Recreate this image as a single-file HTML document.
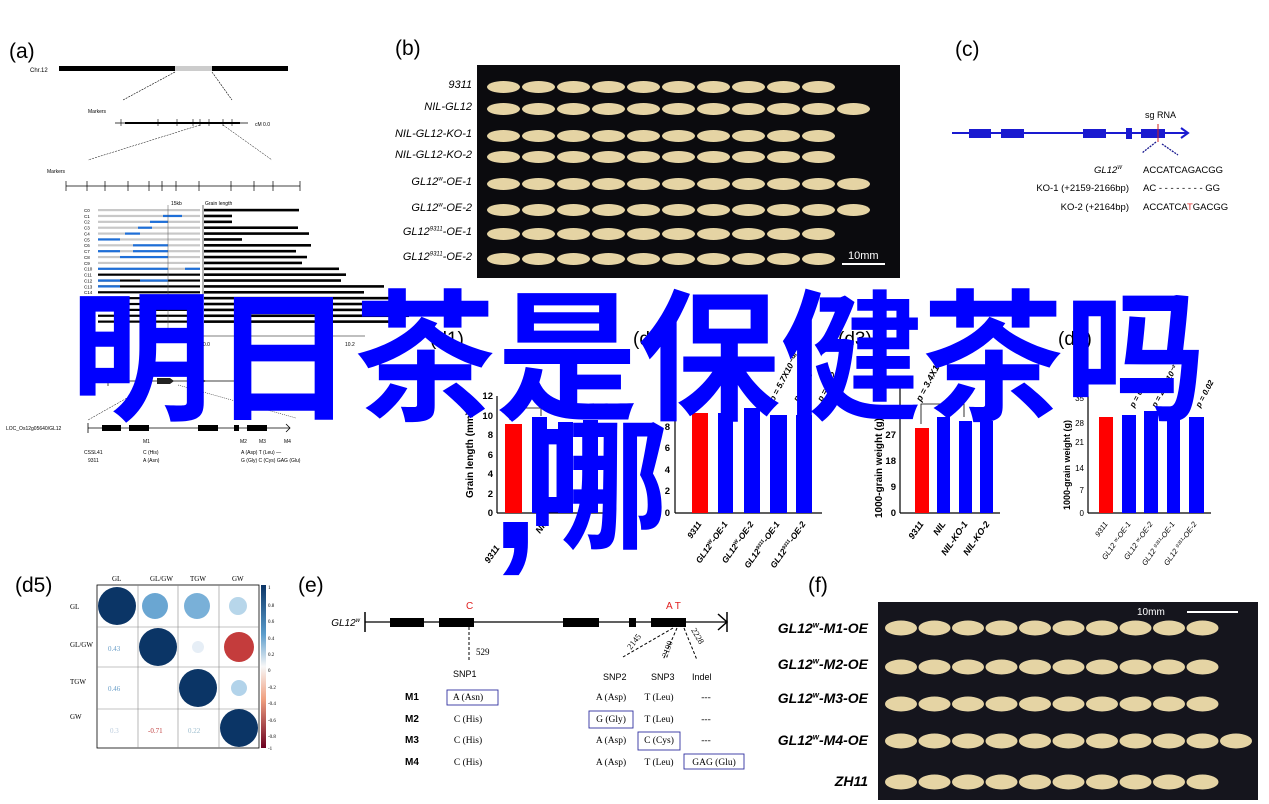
<!DOCTYPE html>
<html><head><meta charset="utf-8">
<style>
html,body{margin:0;padding:0;background:#fff;}
#w{position:relative;width:1269px;height:804px;overflow:hidden;font-family:"Liberation Sans",sans-serif;}
.a{position:absolute;white-space:nowrap;}
.it{font-style:italic;}
.big{position:absolute;font-family:"Noto Sans CJK SC","Liberation Sans",sans-serif;font-weight:bold;color:#0000ff;font-size:142px;line-height:142px;white-space:nowrap;}
</style></head><body><div id="w">
<svg width="1269" height="804" style="position:absolute;left:0;top:0" xmlns="http://www.w3.org/2000/svg" font-family="Liberation Sans, sans-serif">
<!-- (a) -->
<text x="9" y="58" font-size="21">(a)</text>
<text x="30" y="72" font-size="6">Chr.12</text>
<rect x="59" y="66" width="229" height="5" fill="#000"/>
<rect x="175" y="66" width="37" height="5" fill="#ccc"/>
<line x1="175" y1="72" x2="123" y2="100" stroke="#000" stroke-width="0.6" stroke-dasharray="2,1"/>
<line x1="212" y1="72" x2="232" y2="100" stroke="#000" stroke-width="0.6" stroke-dasharray="2,1"/>
<text x="88" y="113" font-size="5">Markers</text>
<line x1="115" y1="123" x2="248" y2="123" stroke="#000" stroke-width="0.8"/>
<rect x="125" y="122" width="115" height="2" fill="#000"/>
<g stroke="#000" stroke-width="0.6">
<line x1="121" y1="119" x2="121" y2="126"/><line x1="158" y1="119" x2="158" y2="126"/><line x1="177" y1="119" x2="177" y2="126"/><line x1="193" y1="119" x2="193" y2="126"/><line x1="200" y1="119" x2="200" y2="126"/><line x1="209" y1="119" x2="209" y2="126"/><line x1="223" y1="119" x2="223" y2="126"/><line x1="232" y1="119" x2="232" y2="126"/>
</g>
<text x="255" y="126" font-size="5">cM 0.0</text>
<line x1="200" y1="125" x2="88" y2="160" stroke="#000" stroke-width="0.5" stroke-dasharray="2,1"/>
<line x1="223" y1="125" x2="272" y2="160" stroke="#000" stroke-width="0.5" stroke-dasharray="2,1"/>
<text x="47" y="173" font-size="5">Markers</text>
<line x1="66" y1="186" x2="300" y2="186" stroke="#000" stroke-width="0.8"/>
<g stroke="#000" stroke-width="0.7">
<line x1="66" y1="181" x2="66" y2="191"/><line x1="87" y1="181" x2="87" y2="191"/><line x1="105" y1="181" x2="105" y2="191"/><line x1="128" y1="181" x2="128" y2="191"/><line x1="149" y1="181" x2="149" y2="191"/><line x1="162" y1="181" x2="162" y2="191"/><line x1="176" y1="181" x2="176" y2="191"/><line x1="199" y1="181" x2="199" y2="191"/><line x1="231" y1="181" x2="231" y2="191"/><line x1="254" y1="181" x2="254" y2="191"/><line x1="273" y1="181" x2="273" y2="191"/><line x1="300" y1="181" x2="300" y2="191"/>
</g>
<text x="171" y="205" font-size="5">15kb</text>
<text x="205" y="205" font-size="5">Grain length</text>
<g id="arows"></g>
<line x1="168" y1="205" x2="168" y2="330" stroke="#555" stroke-width="0.5"/>
<line x1="203" y1="205" x2="203" y2="340" stroke="#000" stroke-width="0.6"/>
<line x1="203" y1="336" x2="365" y2="336" stroke="#000" stroke-width="0.6"/>
<text x="203" y="346" font-size="5">0.0</text><text x="345" y="346" font-size="5">10.2</text>
<line x1="108" y1="381" x2="240" y2="381" stroke="#000" stroke-width="0.7"/>
<line x1="108" y1="376" x2="108" y2="386" stroke="#000" stroke-width="0.7"/>
<path d="M157 378 L170 378 L174 381 L170 384 L157 384Z M200 378 L206 381 L200 384Z" fill="#222"/>
<line x1="150" y1="385" x2="88" y2="420" stroke="#000" stroke-width="0.5" stroke-dasharray="2,1"/>
<line x1="178" y1="385" x2="296" y2="418" stroke="#000" stroke-width="0.5" stroke-dasharray="1,1"/>
<text x="6" y="430" font-size="5">LOC_Os12g05640/GL12</text>
<line x1="88" y1="428" x2="290" y2="428" stroke="#000" stroke-width="0.8"/>
<line x1="88" y1="423" x2="88" y2="433" stroke="#000" stroke-width="0.8"/>
<path d="M286 424 L290 428 L286 432" fill="none" stroke="#000" stroke-width="0.8"/>
<g fill="#000"><rect x="102" y="425" width="19" height="6"/><rect x="129" y="425" width="20" height="6"/><rect x="198" y="425" width="20" height="6"/><rect x="234" y="425" width="5" height="6"/><rect x="247" y="425" width="20" height="6"/></g>
<g font-size="5"><text x="143" y="443">M1</text><text x="240" y="443">M2</text><text x="259" y="443">M3</text><text x="284" y="443">M4</text>
<text x="84" y="454">CSSL41</text><text x="88" y="462">9311</text><text x="143" y="454">C (His)</text><text x="143" y="462">A (Asn)</text>
<text x="241" y="454">A (Asp) T (Leu)  —</text><text x="241" y="462">G (Gly) C (Cys) GAG (Glu)</text></g>

<!-- (b) -->
<text x="395" y="55" font-size="21">(b)</text>
<rect x="477" y="65" width="423" height="213" fill="#0b0b0e"/>
<g id="bgr"></g>
<text x="848" y="259" font-size="11" fill="#fff">10mm</text>
<line x1="842" y1="264" x2="885" y2="264" stroke="#fff" stroke-width="2"/>

<!-- (c) -->
<text x="955" y="56" font-size="21">(c)</text>
<line x1="952" y1="133" x2="1187" y2="133" stroke="#1a1ad0" stroke-width="2"/>
<path d="M1181 128 L1188 133 L1181 138" fill="none" stroke="#1a1ad0" stroke-width="2"/>
<g fill="#1a1ad0"><rect x="969" y="129" width="22" height="9"/><rect x="1001" y="129" width="23" height="9"/><rect x="1083" y="129" width="23" height="9"/><rect x="1126" y="128" width="6" height="11"/><rect x="1141" y="129" width="24" height="9"/></g>
<line x1="1158" y1="124" x2="1158" y2="142" stroke="#d02020" stroke-width="1"/>
<text x="1145" y="118" font-size="9">sg RNA</text>
<line x1="1156" y1="142" x2="1142" y2="153" stroke="#1a1a90" stroke-width="1.3" stroke-dasharray="2,1"/>
<line x1="1162" y1="144" x2="1178" y2="155" stroke="#1a1a90" stroke-width="1.3" stroke-dasharray="2,1"/>
<g font-size="9.5"><text x="1122" y="173" text-anchor="end" font-style="italic">GL12<tspan font-size="5" dy="-4">W</tspan></text>
<text x="1143" y="173">ACCATCAGACGG</text>
<text x="1129" y="191" text-anchor="end">KO-1 (+2159-2166bp)</text><text x="1143" y="191">AC  - - - - - - - -  GG</text>
<text x="1129" y="210" text-anchor="end">KO-2 (+2164bp)</text><text x="1143" y="210">ACCATCA<tspan fill="#e03030">T</tspan>GACGG</text></g>

<!-- d1 -->
<text x="430" y="345" font-size="19">(d1)</text>
<line x1="497" y1="396" x2="497" y2="513" stroke="#000" stroke-width="1.2"/>
<line x1="497" y1="513" x2="605" y2="513" stroke="#000" stroke-width="1.2"/>
<g font-size="9.5" font-weight="bold" text-anchor="end">
<text x="493" y="516">0</text><text x="493" y="497">2</text><text x="493" y="477">4</text><text x="493" y="458">6</text><text x="493" y="438">8</text><text x="493" y="419">10</text><text x="493" y="399">12</text></g>
<text transform="translate(473,498) rotate(-90)" font-size="10" font-weight="bold">Grain length (mm)</text>
<rect x="505" y="424" width="17" height="89" fill="#f00"/>
<g fill="#0000ff"><rect x="532" y="417" width="15" height="96"/><rect x="558" y="422" width="15" height="91"/><rect x="583" y="420" width="15" height="93"/></g>
<path d="M510 420 V408 H541 V416" fill="none" stroke="#000" stroke-width="0.8"/>
<g font-size="9" font-weight="bold" font-style="italic"><text transform="translate(500,548) rotate(-55)" text-anchor="end">9311</text><text transform="translate(540,534) rotate(-55)">NIL</text></g>
<!-- d2 -->
<text x="633" y="345" font-size="19">(d2)</text>
<line x1="675" y1="384" x2="675" y2="513" stroke="#000" stroke-width="1.2"/>
<line x1="675" y1="513" x2="822" y2="513" stroke="#000" stroke-width="1.2"/>
<g font-size="9.5" font-weight="bold" text-anchor="end"><text x="670" y="516">0</text><text x="670" y="494">2</text><text x="670" y="473">4</text><text x="670" y="451">6</text><text x="670" y="430">8</text></g>
<rect x="692" y="413" width="16" height="100" fill="#f00"/>
<g fill="#0000ff"><rect x="718" y="413" width="15" height="100"/><rect x="744" y="408" width="16" height="105"/><rect x="770" y="415" width="17" height="98"/><rect x="796" y="415" width="16" height="98"/></g>
<g font-size="8.5" font-weight="bold" font-style="italic" text-anchor="end">
<text transform="translate(702,524) rotate(-55)">9311</text>
<text transform="translate(728,524) rotate(-55)">GL12<tspan font-size="5" dy="-3">W</tspan><tspan dy="3">-OE-1</tspan></text>
<text transform="translate(754,524) rotate(-55)">GL12<tspan font-size="5" dy="-3">W</tspan><tspan dy="3">-OE-2</tspan></text>
<text transform="translate(780,524) rotate(-55)">GL12<tspan font-size="5" dy="-3">9311</tspan><tspan dy="3">-OE-1</tspan></text>
<text transform="translate(806,524) rotate(-55)">GL12<tspan font-size="5" dy="-3">9311</tspan><tspan dy="3">-OE-2</tspan></text></g>
<g font-size="8.5" font-weight="bold" font-style="italic"><text transform="translate(774,402) rotate(-62)">p = 5.7X10⁻⁰⁸</text><text transform="translate(798,402) rotate(-62)">p = 0.06</text><text transform="translate(822,402) rotate(-62)">p = 0.02</text></g>
<!-- d3 -->
<text x="838" y="345" font-size="19">(d3)</text>
<line x1="900" y1="384" x2="900" y2="513" stroke="#000" stroke-width="1.2"/>
<line x1="900" y1="513" x2="1000" y2="513" stroke="#000" stroke-width="1.2"/>
<g font-size="9.5" font-weight="bold" text-anchor="end"><text x="896" y="516">0</text><text x="896" y="490">9</text><text x="896" y="464">18</text><text x="896" y="438">27</text></g>
<text transform="translate(882,518) rotate(-90)" font-size="10" font-weight="bold">1000-grain weight (g)</text>
<rect x="915" y="428" width="14" height="85" fill="#f00"/>
<g fill="#0000ff"><rect x="937" y="417" width="13" height="96"/><rect x="959" y="421" width="13" height="92"/><rect x="980" y="421" width="13" height="92"/></g>
<path d="M921 424 V404 H964 V417" fill="none" stroke="#000" stroke-width="0.8"/>
<g font-size="9" font-weight="bold" font-style="italic"><text transform="translate(921,402) rotate(-62)">p = 3.4X10⁻⁴</text>
<text transform="translate(924,524) rotate(-55)" text-anchor="end">9311</text><text transform="translate(946,524) rotate(-55)" text-anchor="end">NIL</text><text transform="translate(968,524) rotate(-55)" text-anchor="end">NIL-KO-1</text><text transform="translate(990,524) rotate(-55)" text-anchor="end">NIL-KO-2</text></g>
<!-- d4 -->
<text x="1058" y="345" font-size="19">(d4)</text>
<line x1="1088" y1="396" x2="1088" y2="513" stroke="#000" stroke-width="1.2"/>
<line x1="1088" y1="513" x2="1211" y2="513" stroke="#000" stroke-width="1.2"/>
<g font-size="8" text-anchor="end"><text x="1084" y="516">0</text><text x="1084" y="493">7</text><text x="1084" y="471">14</text><text x="1084" y="445">21</text><text x="1084" y="426">28</text><text x="1084" y="401">35</text></g>
<text transform="translate(1070,510) rotate(-90)" font-size="9" font-weight="bold">1000-grain weight (g)</text>
<rect x="1099" y="417" width="14" height="96" fill="#f00"/>
<g fill="#0000ff"><rect x="1122" y="415" width="14" height="98"/><rect x="1144" y="411" width="14" height="102"/><rect x="1167" y="418" width="13" height="95"/><rect x="1189" y="417" width="15" height="96"/></g>
<g font-size="8" font-weight="bold" font-style="italic"><text transform="translate(1134,408) rotate(-62)">p = 0.3</text><text transform="translate(1156,408) rotate(-62)">p = 2.1X10⁻²</text><text transform="translate(1178,408) rotate(-62)">p = 0.05</text><text transform="translate(1200,408) rotate(-62)">p = 0.02</text></g>
<g font-size="7.5" font-style="italic" text-anchor="end">
<text transform="translate(1108,524) rotate(-55)">9311</text>
<text transform="translate(1131,524) rotate(-55)">GL12 ʷ-OE-1</text><text transform="translate(1153,524) rotate(-55)">GL12 ʷ-OE-2</text><text transform="translate(1175,524) rotate(-55)">GL12 ⁹³¹¹-OE-1</text><text transform="translate(1197,524) rotate(-55)">GL12 ⁹³¹¹-OE-2</text></g>

<!-- d5 -->
<text x="15" y="592" font-size="21">(d5)</text>
<rect x="97" y="585" width="162" height="163" fill="none" stroke="#000" stroke-width="0.8"/>
<g stroke="#888" stroke-width="0.6"><line x1="138" y1="585" x2="138" y2="748"/><line x1="178" y1="585" x2="178" y2="748"/><line x1="219" y1="585" x2="219" y2="748"/><line x1="97" y1="627" x2="259" y2="627"/><line x1="97" y1="667" x2="259" y2="667"/><line x1="97" y1="709" x2="259" y2="709"/></g>
<g font-family="Liberation Serif, serif" font-size="7"><text x="112" y="581">GL</text><text x="150" y="581">GL/GW</text><text x="190" y="581">TGW</text><text x="232" y="581">GW</text>
<text x="70" y="609">GL</text><text x="70" y="647">GL/GW</text><text x="70" y="684">TGW</text><text x="70" y="719">GW</text>
<text x="108" y="651" fill="#6a9ec8">0.43</text><text x="108" y="691" fill="#6a9ec8">0.46</text><text x="110" y="733" fill="#bcd">0.3</text><text x="148" y="733" fill="#c04040">-0.71</text><text x="188" y="733" fill="#9bc">0.22</text></g>
<circle cx="117" cy="606" r="19" fill="#0b3566"/><circle cx="155" cy="606" r="13" fill="#6aa6d2"/><circle cx="197" cy="606" r="13" fill="#79b0d8"/><circle cx="238" cy="606" r="9" fill="#b7d6ea"/>
<circle cx="158" cy="647" r="19" fill="#0b3566"/><circle cx="198" cy="647" r="6" fill="#e6eef6"/><circle cx="239" cy="647" r="15" fill="#c43c3c"/>
<circle cx="198" cy="688" r="19" fill="#0b3566"/><circle cx="239" cy="688" r="8" fill="#b2d3ea"/>
<circle cx="239" cy="728" r="19" fill="#0b3566"/>
<defs><linearGradient id="cb" x1="0" y1="0" x2="0" y2="1"><stop offset="0" stop-color="#0b3566"/><stop offset="0.3" stop-color="#5a9ccb"/><stop offset="0.5" stop-color="#f7f7f7"/><stop offset="0.7" stop-color="#f0a080"/><stop offset="1" stop-color="#6b0020"/></linearGradient></defs>
<rect x="261" y="585" width="5" height="163" fill="url(#cb)"/>
<g font-size="5" font-family="Liberation Serif, serif"><text x="268" y="589">1</text><text x="268" y="607">0.8</text><text x="268" y="623">0.6</text><text x="268" y="640">0.4</text><text x="268" y="656">0.2</text><text x="268" y="672">0</text><text x="268" y="689">-0.2</text><text x="268" y="705">-0.4</text><text x="268" y="722">-0.6</text><text x="268" y="738">-0.8</text><text x="268" y="750">-1</text></g>

<!-- (e) -->
<text x="298" y="592" font-size="21">(e)</text>
<text x="360" y="626" font-size="10" font-style="italic" text-anchor="end">GL12<tspan font-size="6" dy="-4">w</tspan></text>
<line x1="365" y1="622" x2="727" y2="622" stroke="#000" stroke-width="1.2"/>
<line x1="365" y1="612" x2="365" y2="632" stroke="#000" stroke-width="1.5"/>
<line x1="727" y1="612" x2="727" y2="632" stroke="#000" stroke-width="1.5"/>
<path d="M718 614 L727 622 L718 630" fill="none" stroke="#000" stroke-width="1.5"/>
<g fill="#000"><rect x="390" y="618" width="34" height="9"/><rect x="439" y="618" width="35" height="9"/><rect x="563" y="618" width="36" height="9"/><rect x="629" y="618" width="7" height="9"/><rect x="651" y="618" width="35" height="9"/></g>
<text x="466" y="609" font-size="10" fill="#e02020">C</text><text x="666" y="609" font-size="10" fill="#e02020">A T</text>
<line x1="469" y1="627" x2="469" y2="660" stroke="#000" stroke-width="1" stroke-dasharray="3,2"/>
<text x="476" y="655" font-size="9" font-family="Liberation Serif, serif">529</text>
<g stroke="#000" stroke-width="1" stroke-dasharray="3,2"><line x1="673" y1="628" x2="623" y2="657"/><line x1="677" y1="628" x2="663" y2="660"/><line x1="684" y1="628" x2="697" y2="660"/></g>
<g font-family="Liberation Serif, serif" font-size="8.5"><text transform="translate(631,650) rotate(-52)">2145</text><text transform="translate(667,658) rotate(-70)">2190</text><text transform="translate(691,630) rotate(60)">2228</text></g>
<g font-size="9"><text x="453" y="677">SNP1</text><text x="603" y="680">SNP2</text><text x="651" y="680">SNP3</text><text x="692" y="680">Indel</text></g>
<g font-size="10" font-weight="bold"><text x="405" y="700">M1</text><text x="405" y="722">M2</text><text x="405" y="743">M3</text><text x="405" y="765">M4</text></g>
<g font-family="Liberation Serif, serif" font-size="9.5">
<text x="468" y="700" text-anchor="middle">A (Asn)</text><text x="468" y="722" text-anchor="middle">C (His)</text><text x="468" y="743" text-anchor="middle">C (His)</text><text x="468" y="765" text-anchor="middle">C (His)</text>
<text x="611" y="700" text-anchor="middle">A (Asp)</text><text x="611" y="722" text-anchor="middle">G (Gly)</text><text x="611" y="743" text-anchor="middle">A (Asp)</text><text x="611" y="765" text-anchor="middle">A (Asp)</text>
<text x="659" y="700" text-anchor="middle">T (Leu)</text><text x="659" y="722" text-anchor="middle">T (Leu)</text><text x="659" y="743" text-anchor="middle">C (Cys)</text><text x="659" y="765" text-anchor="middle">T (Leu)</text>
<text x="706" y="700" text-anchor="middle">---</text><text x="706" y="722" text-anchor="middle">---</text><text x="706" y="743" text-anchor="middle">---</text><text x="714" y="765" text-anchor="middle">GAG (Glu)</text></g>
<g fill="none" stroke="#3030a0" stroke-width="0.9"><rect x="447" y="690" width="51" height="15"/><rect x="589" y="711" width="44" height="17"/><rect x="638" y="732" width="42" height="18"/><rect x="684" y="754" width="60" height="15"/></g>

<!-- (f) -->
<text x="808" y="592" font-size="21">(f)</text>
<rect x="878" y="602" width="380" height="198" fill="#15151d"/>
<g id="fgr"></g>
<text x="1137" y="615" font-size="10" fill="#fff">10mm</text>
<line x1="1187" y1="612" x2="1238" y2="612" stroke="#fff" stroke-width="2"/>
</svg>

<div class="a it" style="left:0;width:472px;text-align:right;top:79px;font-size:11px">9311</div>
<div class="a it" style="left:0;width:472px;text-align:right;top:101px;font-size:11px">NIL-GL12</div>
<div class="a it" style="left:0;width:472px;text-align:right;top:128px;font-size:11px">NIL-GL12-KO-1</div>
<div class="a it" style="left:0;width:472px;text-align:right;top:149px;font-size:11px">NIL-GL12-KO-2</div>
<div class="a it" style="left:0;width:472px;text-align:right;top:176px;font-size:11px">GL12<sup style="font-size:6px">w</sup>-OE-1</div>
<div class="a it" style="left:0;width:472px;text-align:right;top:202px;font-size:11px">GL12<sup style="font-size:6px">w</sup>-OE-2</div>
<div class="a it" style="left:0;width:472px;text-align:right;top:226px;font-size:11px">GL12<sup style="font-size:6px">9311</sup>-OE-1</div>
<div class="a it" style="left:0;width:472px;text-align:right;top:251px;font-size:11px">GL12<sup style="font-size:6px">9311</sup>-OE-2</div>

<div class="a it" style="left:0;width:868px;text-align:right;top:620px;font-size:14px;font-weight:bold">GL12<sup style="font-size:8px">w</sup>-M1-OE</div>
<div class="a it" style="left:0;width:868px;text-align:right;top:656px;font-size:14px;font-weight:bold">GL12<sup style="font-size:8px">w</sup>-M2-OE</div>
<div class="a it" style="left:0;width:868px;text-align:right;top:690px;font-size:14px;font-weight:bold">GL12<sup style="font-size:8px">w</sup>-M3-OE</div>
<div class="a it" style="left:0;width:868px;text-align:right;top:732px;font-size:14px;font-weight:bold">GL12<sup style="font-size:8px">w</sup>-M4-OE</div>
<div class="a it" style="left:0;width:868px;text-align:right;top:773px;font-size:14px;font-weight:bold">ZH11</div>

<div class="big" style="left:70px;top:276px;">明日茶是保健茶吗</div>
<div class="big" style="left:527px;top:404px;">哪</div>
<div class="a" style="left:491px;top:401px;font-size:175px;line-height:175px;font-weight:bold;color:#0000ff;">,</div>

<script>
(function(){
var ns="http://www.w3.org/2000/svg";
function el(p,t,a){var e=document.createElementNS(ns,t);for(var k in a)e.setAttribute(k,a[k]);p.appendChild(e);return e;}
var g=document.getElementById('arows');
var lens=[95,28,28,94,105,38,107,92,103,98,135,142,137,180,160,200,210,195,205,200];
var blues=[[],[163,182],[150,168],[138,152],[125,140],[98,120],[133,168],[98,120,133,168],[120,168],[],[98,168,185,200],[],[98,120,140,168],[98,120],[],[],[],[],[],[]];
for(var i=0;i<20;i++){var y=210+i*5.87;
 el(g,'rect',{x:98,y:y-1,width:102,height:2.2,fill:i>10?'#000':'#c8c8c8'});
 var b=blues[i];for(var j=0;j+1<b.length;j+=2)el(g,'rect',{x:b[j],y:y-1,width:b[j+1]-b[j],height:2.2,fill:'#1e6fd8'});
 el(g,'rect',{x:204,y:y-1.2,width:lens[i],height:2.6,fill:'#000'});
 el(g,'text',{x:84,y:y+2,'font-size':4.5}).textContent='C'+i;
}
function grains(id,rows,x0,pitch,w,h,counts){var g=document.getElementById(id);
 rows.forEach(function(y,r){for(var k=0;k<counts[r];k++){
  el(g,'ellipse',{cx:x0+k*pitch+w/2,cy:y,rx:w/2,ry:h/2,fill:'#e5d4a4'});}});}
grains('bgr',[87,109,136,157,184,210,234,259],487,35,33,12,[10,11,10,10,11,11,10,10]);
grains('fgr',[628,667,704,741,782],885,33.5,32,15,[10,10,10,11,10]);
})();
</script>
</div></body></html>
